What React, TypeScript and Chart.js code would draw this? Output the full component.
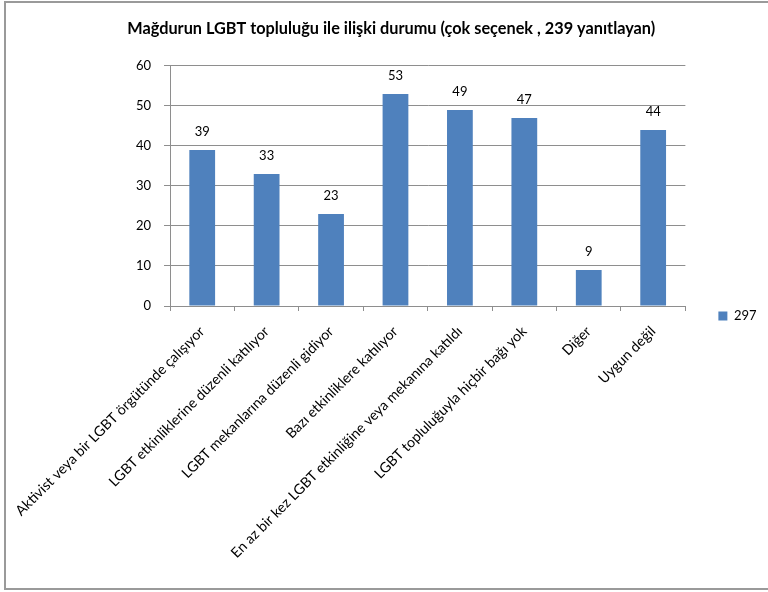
import React, { useEffect, useRef } from "react";
import { Chart, registerables } from "chart.js";

Chart.register(...registerables);

const chartTitle = "Mağdurun LGBT topluluğu ile ilişki durumu (çok seçenek , 239 yanıtlayan)";
const categories = [
  "Aktivist veya bir LGBT örgütünde çalışıyor",
  "LGBT etkinliklerine düzenli katılıyor",
  "LGBT mekanlarına düzenli gidiyor",
  "Bazı etkinliklere katılıyor",
  "En az bir kez LGBT etkinliğine veya mekanına katıldı",
  "LGBT topluluğuyla hiçbir bağı yok",
  "Diğer",
  "Uygun değil",
];
const seriesName = "297";
const values = [39, 33, 23, 53, 49, 47, 9, 44];
const yMin = 0;
const yMax = 60;
const yStep = 10;

const FONT = "Lato, 'Open Sans', sans-serif";
const BAR = "#4F81BD";
const GRID = "#8E8E8E";

const W = 768;
const H = 592;

const dataLabels = {
  id: "dataLabels",
  afterDatasetsDraw(chart: any) {
    const ctx = chart.ctx;
    const meta = chart.getDatasetMeta(0);
    const ds = chart.data.datasets[0];
    ctx.save();
    ctx.font = `13px ${FONT}`;
    ctx.fillStyle = "#000";
    ctx.textAlign = "center";
    ctx.textBaseline = "middle";
    meta.data.forEach((el: any, i: number) => {
      ctx.fillText(String(ds.data[i]), el.x, el.y - 18);
    });
    ctx.restore();
  },
};

const frame = {
  id: "frame",
  beforeDraw(chart: any) {
    const ctx = chart.ctx;
    ctx.save();
    ctx.fillStyle = "#fff";
    ctx.fillRect(0, 0, chart.width, chart.height);
    ctx.restore();
  },
  afterDraw(chart: any) {
    const ctx = chart.ctx;
    ctx.save();
    ctx.strokeStyle = "#9A9A9A";
    ctx.lineWidth = 2;
    ctx.strokeRect(5, 2, chart.width + 20, 587);
    ctx.restore();
  },
};

export default function App() {
  const ref = useRef<HTMLCanvasElement | null>(null);

  useEffect(() => {
    if (!ref.current) return;
    const chart = new Chart(ref.current, {
      type: "bar",
      data: {
        labels: categories,
        datasets: [
          {
            label: seriesName,
            data: values,
            backgroundColor: BAR,
            borderWidth: 0,
            barPercentage: 0.4,
            categoryPercentage: 1.0,
          },
        ],
      },
      options: {
        animation: false,
        responsive: false,
        devicePixelRatio: 1,
        layout: { padding: { left: 16, right: 1.5, top: 0, bottom: -40 } },
        plugins: {
          title: {
            display: true,
            text: chartTitle,
            color: "#000",
            font: { family: FONT, size: 16.3, weight: "bold" },
            padding: { top: 19.2, bottom: 27.2 },
          },
          legend: {
            display: true,
            position: "right",
            labels: {
              boxWidth: 9,
              boxHeight: 9,
              padding: 33,
              color: "#000",
              font: { family: FONT, size: 13 },
            },
          },
          tooltip: { enabled: false },
        },
        scales: {
          x: {
            grid: {
              display: true,
              drawOnChartArea: false,
              drawTicks: true,
              tickLength: 5,
              color: GRID,
              offset: true,
            },
            border: { display: true, color: GRID, width: 1 },
            ticks: {
              color: "#000",
              font: { family: FONT, size: 14.2 },
              minRotation: 45,
              maxRotation: 45,
              autoSkip: false,
              padding: 12,
            },
            afterFit(scale: any) {
              scale.height = 632 - 306;
              scale.paddingLeft = 0;
              scale.paddingRight = 0;
            },
          },
          y: {
            min: yMin,
            max: yMax,
            ticks: {
              stepSize: yStep,
              color: "#000",
              font: { family: FONT, size: 13 },
              padding: 13,
            },
            grid: { color: GRID, tickLength: 6, drawTicks: true },
            border: { display: true, color: GRID, width: 1 },
            afterFit(scale: any) {
              scale.width = 170 - 16;
              scale.paddingTop = 0;
              scale.paddingBottom = 0;
            },
          },
        },
      },
      plugins: [dataLabels, frame],
    });
    return () => chart.destroy();
  }, []);

  return (
    <div style={{ position: "fixed", left: 0, top: 0, width: W, height: H, background: "#fff" }}>
      <canvas ref={ref} width={W} height={H} style={{ width: W, height: H, display: "block" }} />
    </div>
  );
}
